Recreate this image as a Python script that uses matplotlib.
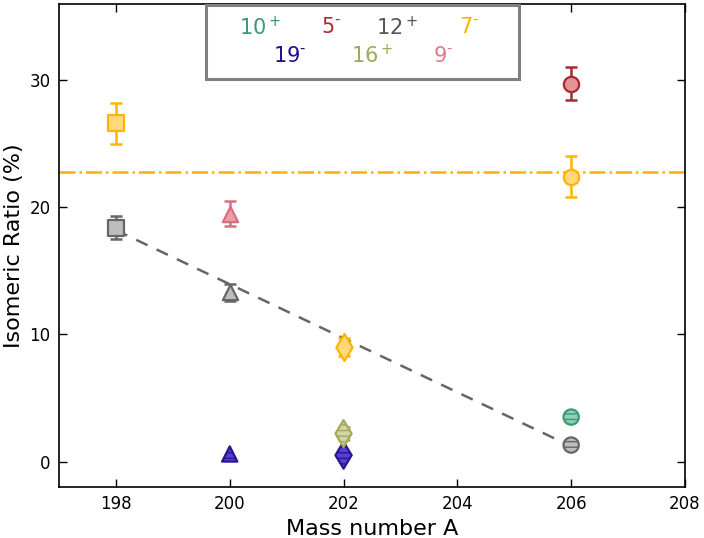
import matplotlib
matplotlib.use("Agg")
import matplotlib.pyplot as plt
from matplotlib.patches import Rectangle

# isomeric ratios (%), grouped by state
s7_x = [198, 202, 206]
s7_y = [26.6, 9.0, 22.4]
s7_err = [1.6, 0.7, 1.6]
s7_mk = ['s', 'd', 'o']

s12_x = [198, 200, 206]
s12_y = [18.4, 13.3, 1.3]
s12_err = [0.9, 0.7, 0.0]
s12_mk = ['s', '^', 'o']
s12_hatch = [None, None, '---']

s5_x, s5_y, s5_err = [206], [29.7], [1.3]
s9_x, s9_y, s9_err = [200], [19.5], [1.0]
s19_x, s19_y, s19_mk = [200, 202], [0.6, 0.5], ['^', 'd']
s16_x, s16_y, s16_err = [202], [2.2], [0.5]
s10_x, s10_y = [206], [3.5]

avg_7 = 22.8
trend_x = [198, 206]
trend_y = [18.2, 1.2]

legend_row1 = ['10$^+$', '5$^{\\text{-}}$', '12$^+$', '7$^{\\text{-}}$']
legend_row1_col = ['#3a9a74', '#b0282a', '#555555', '#ffb000']
legend_row2 = ['19$^{\\text{-}}$', '16$^+$', '9$^{\\text{-}}$']
legend_row2_col = ['#1e0c92', '#a2a858', '#e07a8a']

# edge / face colours
C7 = ('#ffb400', '#ffd97c')
C12 = ('#666666', '#bdbdbd')
C5 = ('#a82a2e', '#e29498')
C9 = ('#d9707f', '#e6a0aa')
C19 = ('#2a1690', '#5440d4')
C16 = ('#a4aa5a', '#d3d6aa')
C10 = ('#3a9a74', '#90d1b6')


def draw(ax, xs, ys, errs, mks, colors, hatches=None, size=11, z=3):
    edge, face = colors
    if errs is not None:
        ax.errorbar(xs, ys, yerr=errs, fmt='none', ecolor=edge, elinewidth=1.8,
                    capsize=4, capthick=1.8, zorder=z)
    for i in range(len(xs)):
        mk = mks[i]
        s = size * 1.25 if mk == 'd' else size
        h = hatches[i] if hatches else None
        ax.scatter([xs[i]], [ys[i]], marker=mk, s=s ** 2, facecolor=face,
                   edgecolor=edge, linewidth=1.6, hatch=h, zorder=z + 1)


plt.rcParams['hatch.linewidth'] = 1.0
fig = plt.figure(figsize=(7.04, 5.38), dpi=100)
ax = fig.add_axes([0.0838, 0.0948, 0.8892, 0.898])

ax.axhline(avg_7, color='#ffb000', linestyle='-.', linewidth=1.8, zorder=2)
ax.plot(trend_x, trend_y, color='#666666', linestyle='--', linewidth=1.8,
        dashes=(5, 4), zorder=2)

draw(ax, s7_x, s7_y, s7_err, s7_mk, C7)
draw(ax, s12_x, s12_y, s12_err, s12_mk, C12, s12_hatch)
draw(ax, s5_x, s5_y, s5_err, ['o'], C5)
draw(ax, s9_x, s9_y, s9_err, ['^'], C9)
draw(ax, s19_x, s19_y, None, s19_mk, C19, ['---', '---'])
draw(ax, s16_x, s16_y, s16_err, ['d'], C16, ['---'])
draw(ax, s10_x, s10_y, None, ['o'], C10, ['---'])

ax.set_xlim(197, 208)
ax.set_ylim(-2, 36)
ax.set_xticks([198, 200, 202, 204, 206, 208])
ax.set_yticks([0, 10, 20, 30])
ax.tick_params(direction='in', top=True, right=True, length=6, width=1,
               labelsize=12, pad=6)
for sp in ax.spines.values():
    sp.set_linewidth(1.2)
ax.set_xlabel('Mass number A', fontsize=16)
ax.set_ylabel('Isomeric Ratio (%)', fontsize=16)

# legend-like box with coloured state labels
ax.add_patch(Rectangle((0.235, 0.845), 0.5, 0.153, transform=ax.transAxes,
                       facecolor='white', edgecolor='#808080', linewidth=2.2,
                       zorder=6))
row1_x = [0.322, 0.434, 0.54, 0.655]
row2_x = [0.368, 0.5, 0.614]
for t, c, x in zip(legend_row1, legend_row1_col, row1_x):
    ax.text(x, 0.952, t, color=c, fontsize=15, ha='center', va='center',
            transform=ax.transAxes, zorder=7)
for t, c, x in zip(legend_row2, legend_row2_col, row2_x):
    ax.text(x, 0.893, t, color=c, fontsize=15, ha='center', va='center',
            transform=ax.transAxes, zorder=7)

fig.savefig('out.png', dpi=100)
